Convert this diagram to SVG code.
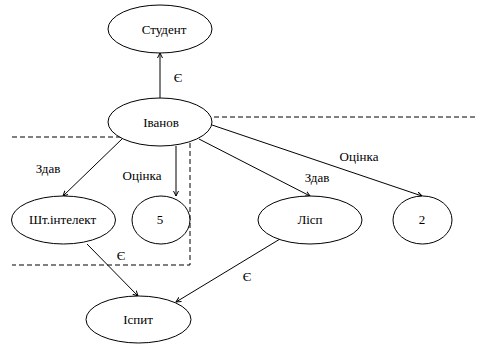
<svg xmlns="http://www.w3.org/2000/svg" width="501" height="349" viewBox="0 0 501 349">
<defs>
<marker id="arr" markerUnits="userSpaceOnUse" markerWidth="8" markerHeight="8" refX="5" refY="3" orient="auto">
<path d="M0,0.5 L5,3 L0,5.5" fill="none" stroke="#000" stroke-width="1"/>
</marker>
</defs>
<style>
.n{fill:#fff;stroke:#000;stroke-width:1}
.t{font-family:"Liberation Serif","Times New Roman",serif;font-size:13px;fill:#000;text-anchor:middle}
.e{stroke:#000;stroke-width:1;fill:none;marker-end:url(#arr)}
.d{stroke:#000;stroke-width:1;fill:none;stroke-dasharray:5,3}
</style>
<rect width="501" height="349" fill="#fff"/>
<g id="dashes">
<path class="d" d="M198,117 H475"/>
<path class="d" d="M12,137 H190 V265 H12"/>
</g>
<g id="connectors">
<line class="e" x1="160" y1="98" x2="160" y2="53"/>
<line class="e" x1="123" y1="138" x2="63" y2="196"/>
<line class="e" x1="176" y1="146" x2="176" y2="196"/>
<line class="e" x1="199" y1="139" x2="310" y2="196"/>
<line class="e" x1="212" y1="125" x2="422" y2="196"/>
<line class="e" x1="87" y1="244" x2="138" y2="296"/>
<line class="e" x1="280" y1="239" x2="176" y2="302"/>
<text class="t" x="178" y="82">Є</text>
<text class="t" x="48" y="173">Здав</text>
<text class="t" x="142" y="180">Оцінка</text>
<text class="t" x="317" y="182">Здав</text>
<text class="t" x="359" y="161">Оцінка</text>
<text class="t" x="121" y="260">Є</text>
<text class="t" x="247" y="281">Є</text>
</g>
<g id="nodes">
<g id="student"><ellipse class="n" cx="160" cy="29" rx="52" ry="24"/><text class="t" x="164" y="34">Студент</text></g>
<g id="ivanov"><ellipse class="n" cx="160" cy="122" rx="52" ry="24"/><text class="t" x="161" y="127">Іванов</text></g>
<g id="shtint"><ellipse class="n" cx="63.5" cy="220" rx="52" ry="24"/><text class="t" x="62.5" y="224">Шт.інтелект</text></g>
<g id="five"><ellipse class="n" cx="161" cy="220" rx="29" ry="24"/><text class="t" x="160" y="224">5</text></g>
<g id="lisp"><ellipse class="n" cx="310" cy="220" rx="52" ry="24"/><text class="t" x="310" y="224">Лісп</text></g>
<g id="two"><ellipse class="n" cx="422.5" cy="220" rx="29.5" ry="24"/><text class="t" x="422" y="224">2</text></g>
<g id="ispyt"><ellipse class="n" cx="138.5" cy="319.5" rx="52.5" ry="23.5"/><text class="t" x="138" y="324">Іспит</text></g>
</g>
</svg>
